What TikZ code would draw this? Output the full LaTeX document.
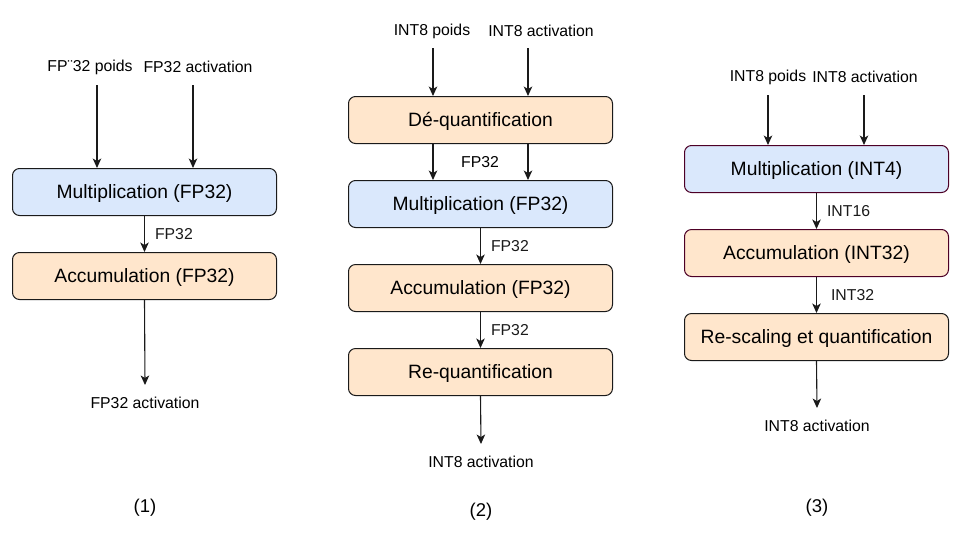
\documentclass[tikz,border=0pt]{standalone}
\usepackage{fontspec}
\setmainfont{Liberation Sans}
\usetikzlibrary{arrows.meta}
\definecolor{bluefill}{HTML}{DAE8FC}
\definecolor{orangefill}{HTML}{FFE6CC}
\definecolor{darkline}{HTML}{1A1A1A}
\definecolor{maroon}{HTML}{4D0026}
\tikzset{
  box/.style={draw=darkline, line width=1pt, rounded corners=7pt, minimum width=264pt, minimum height=47pt, inner sep=0pt, font=\fontsize{19.3}{21}\selectfont, anchor=north west, text depth=1pt},
  bluebox/.style={box, fill=bluefill},
  orangebox/.style={box, fill=orangefill},
  mbox/.style={draw=maroon},
  lbl/.style={font=\fontsize{15.8}{18}\selectfont, inner sep=0pt},
  num/.style={font=\fontsize{18.5}{20}\selectfont, inner sep=0pt},
  arr/.style={-{Stealth[length=9.5pt,width=8.5pt,inset=2.5pt]}, line width=1.1pt, darkline},
}
\begin{document}
\begin{tikzpicture}[x=1pt,y=-1pt]
\useasboundingbox (0,0) rectangle (962,542);
% ---------- Column 1 ----------
\node[lbl] (w1) at (90,67) {FP¨32 poids};
\node[lbl] (a1) at (198,67) {FP32 activation};
\node[bluebox] (m1) at (12,168) {Multiplication (FP32)};
\node[orangebox] (c1) at (12,252) {Accumulation (FP32)};
\node[lbl] (o1) at (145,403) {FP32 activation};
\node[num] (n1) at (145,508) {(1)};
\coordinate (w1s) at (97,85);
\coordinate (a1s) at (193,85);
\coordinate (o1e) at (145,385);
\draw[arr] (w1s) -- (w1s |- m1.north);
\draw[arr] (a1s) -- (a1s |- m1.north);
\draw[arr] (m1.south) -- node[lbl, right=10pt, pos=0.5] {FP32} (c1.north);
\draw[arr] (c1.south) -- (o1e);
% ---------- Column 2 ----------
\node[lbl] (w2) at (432,31) {INT8 poids};
\node[lbl] (a2) at (541,31) {INT8 activation};
\node[orangebox] (d2) at (348,96) {Dé-quantification};
\node[bluebox] (m2) at (348,180) {Multiplication (FP32)};
\node[orangebox] (c2) at (348,264) {Accumulation (FP32)};
\node[orangebox] (r2) at (348,348) {Re-quantification};
\node[lbl] (o2) at (481,462) {INT8 activation};
\node[num] (n2) at (481,512) {(2)};
\coordinate (w2s) at (433,48);
\coordinate (a2s) at (528,48);
\coordinate (o2e) at (481,444);
\draw[arr] (w2s) -- (w2s |- d2.north);
\draw[arr] (a2s) -- (a2s |- d2.north);
\draw[arr] (w2s |- d2.south) -- (w2s |- m2.north);
\draw[arr] (a2s |- d2.south) -- (a2s |- m2.north);
\node[lbl] (f2) at (480,162) {FP32};
\draw[arr] (m2.south) -- node[lbl, right=10pt] {FP32} (c2.north);
\draw[arr] (c2.south) -- node[lbl, right=10pt] {FP32} (r2.north);
\draw[arr] (r2.south) -- (o2e);
% ---------- Column 3 ----------
\node[lbl] (w3) at (768,77) {INT8 poids};
\node[lbl] (a3) at (865,77) {INT8 activation};
\node[bluebox, mbox] (m3) at (684,145) {Multiplication (INT4)};
\node[orangebox, mbox] (c3) at (684,229) {Accumulation (INT32)};
\node[orangebox] (r3) at (684,313) {Re-scaling et quantification};
\node[lbl] (o3) at (817,426) {INT8 activation};
\node[num] (n3) at (817,508) {(3)};
\coordinate (w3s) at (768,95);
\coordinate (a3s) at (864,95);
\coordinate (o3e) at (817,408);
\draw[arr] (w3s) -- (w3s |- m3.north);
\draw[arr] (a3s) -- (a3s |- m3.north);
\draw[arr] (m3.south) -- node[lbl, right=10pt] {INT16} (c3.north);
\draw[arr] (c3.south) -- node[lbl, right=14pt] {INT32} (r3.north);
\draw[arr] (r3.south) -- (o3e);
\end{tikzpicture}
\end{document}
